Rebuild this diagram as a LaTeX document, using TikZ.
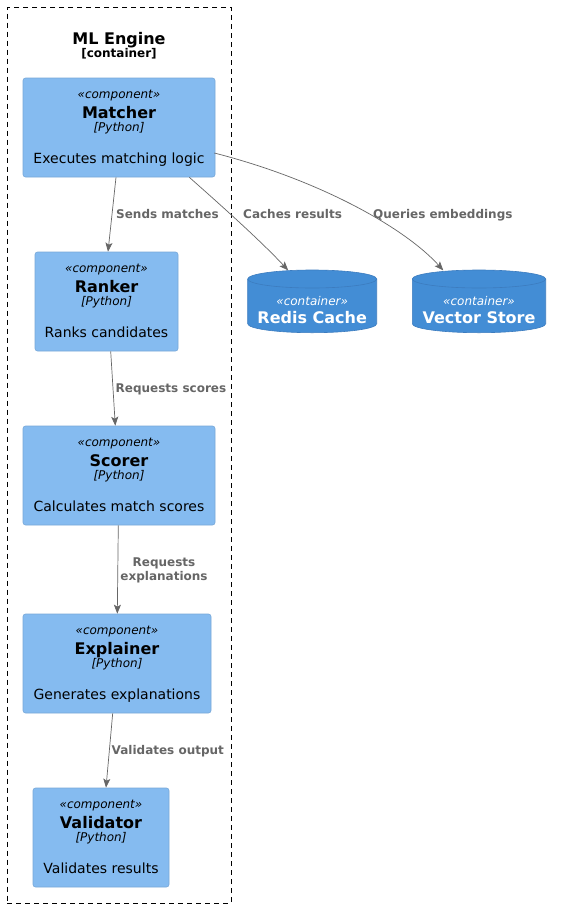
\documentclass[tikz,border=0pt]{standalone}
\usepackage{fontspec}
\setmainfont{DejaVu Sans}
\usetikzlibrary{arrows.meta,calc}
\definecolor{compfill}{HTML}{85BBF0}
\definecolor{compborder}{HTML}{78A8D8}
\definecolor{contfill}{HTML}{438DD5}
\definecolor{contborder}{HTML}{3C7CBF}
\definecolor{edgegray}{HTML}{666666}
\newcommand\mycyl[4]{%
  \pgfmathsetmacro\cxm{(#1+#2)/2}%
  \pgfmathsetmacro\ckx{(#2-#1)/2*0.5523}%
  \pgfmathsetmacro\cyc{#3+9}%
  \pgfmathsetmacro\cyb{#4-9}%
  \path[fill=contfill,draw=contborder,line width=0.6pt]
    (#1,\cyc) .. controls (#1,\cyc-4.97) and (\cxm-\ckx,#3) .. (\cxm,#3)
    .. controls (\cxm+\ckx,#3) and (#2,\cyc-4.97) .. (#2,\cyc)
    -- (#2,\cyb) .. controls (#2,\cyb+4.97) and (\cxm+\ckx,#4) .. (\cxm,#4)
    .. controls (\cxm-\ckx,#4) and (#1,\cyb+4.97) .. (#1,\cyb) -- cycle;
  \draw[contborder,line width=0.6pt]
    (#1,\cyc) .. controls (#1,\cyc+4.97) and (\cxm-\ckx,\cyc+9) .. (\cxm,\cyc+9)
    .. controls (\cxm+\ckx,\cyc+9) and (#2,\cyc+4.97) .. (#2,\cyc);
}
\begin{document}
\begin{tikzpicture}[x=1pt,y=-1pt,
  comp/.style={rectangle,rounded corners=2.5pt,fill=compfill,draw=compborder,line width=0.6pt,inner sep=0pt,minimum height=99pt},
  stereo/.style={anchor=base,inner sep=0pt,font=\fontsize{12}{14}\selectfont\itshape},
  cname/.style={anchor=base,inner sep=0pt,font=\fontsize{16}{19}\selectfont\bfseries},
  tech/.style={anchor=base,inner sep=0pt,font=\fontsize{12}{14}\selectfont\itshape},
  cdesc/.style={anchor=base,inner sep=0pt,font=\fontsize{14}{17}\selectfont},
  wstereo/.style={stereo,text=white},
  wname/.style={cname,text=white},
  rel/.style={draw=edgegray,line width=0.7pt,-{Stealth[length=9pt,width=7pt,inset=2pt]}},
  rlabel/.style={anchor=base,inner sep=0pt,text=edgegray,font=\fontsize{12}{14}\selectfont\bfseries},
]
\useasboundingbox (0,0) rectangle (561,908);
\fill[white] (0,0) rectangle (561,908);

% boundary
\node (boundary) [draw=black,line width=0.8pt,dash pattern=on 5pt off 4pt,minimum width=224pt,minimum height=895.7pt,inner sep=0pt] at (119.3,455.2) {};
\node (btitle) [cname] at (119,44) {ML Engine};
\node (btype) [anchor=base,inner sep=0pt,font=\fontsize{12}{14}\selectfont\bfseries] at (119,57) {[container]};

% components
\node (matcher) [comp,minimum width=192pt] at (119,127.5) {};
\node (matcher-s) [stereo] at (119,98.5) {«component»};
\node (matcher-n) [cname] at (119,118) {Matcher};
\node (matcher-t) [tech] at (119,131.5) {[Python]};
\node (matcher-d) [cdesc] at (119,163) {Executes matching logic};

\node (ranker) [comp,minimum width=143pt] at (106.5,301.5) {};
\node (ranker-s) [stereo] at (106.5,272.5) {«component»};
\node (ranker-n) [cname] at (106.5,292) {Ranker};
\node (ranker-t) [tech] at (106.5,305.5) {[Python]};
\node (ranker-d) [cdesc] at (106.5,337) {Ranks candidates};

\node (scorer) [comp,minimum width=192pt] at (119,475.5) {};
\node (scorer-s) [stereo] at (119,446.5) {«component»};
\node (scorer-n) [cname] at (119,466) {Scorer};
\node (scorer-t) [tech] at (119,479.5) {[Python]};
\node (scorer-d) [cdesc] at (119,511) {Calculates match scores};

\node (explainer) [comp,minimum width=188pt] at (117,663.5) {};
\node (explainer-s) [stereo] at (117,634.5) {«component»};
\node (explainer-n) [cname] at (117,654) {Explainer};
\node (explainer-t) [tech] at (117,667.5) {[Python]};
\node (explainer-d) [cdesc] at (117,699) {Generates explanations};

\node (validator) [comp,minimum width=136pt] at (101,837.5) {};
\node (validator-s) [stereo] at (101,808.5) {«component»};
\node (validator-n) [cname] at (101,828) {Validator};
\node (validator-t) [tech] at (101,841.5) {[Python]};
\node (validator-d) [cdesc] at (101,873) {Validates results};

% containers (cylinders)
\mycyl{247.7}{376.7}{270}{332.7}
\node (redis) [inner sep=0pt,minimum width=129pt,minimum height=62.7pt] at (312.2,301.35) {};
\node (redis-s) [wstereo] at (312.2,305) {«container»};
\node (redis-n) [wname] at (312.2,323) {Redis Cache};

\mycyl{412.3}{545.7}{270}{332.7}
\node (vector) [inner sep=0pt,minimum width=133.4pt,minimum height=62.7pt] at (479,301.35) {};
\node (vector-s) [wstereo] at (479,305) {«container»};
\node (vector-n) [wname] at (479,323) {Vector Store};

% relations
\draw[rel] ([xshift=-3pt]matcher.south) -- ([xshift=1.5pt]ranker.north);
\node (l1) [rlabel,anchor=base west] at (116,218.5) {Sends matches};

\draw[rel] ([xshift=70.3pt]matcher.south) .. controls (215,200) and (260,240) .. ([xshift=-24pt,yshift=-0.6pt]redis.north);
\node (l2) [rlabel,anchor=base west] at (243,218.5) {Caches results};

\draw[rel] ([yshift=-25.5pt,xshift=-1pt]matcher.east) .. controls (320,180) and (405,228) .. ([xshift=-35.7pt,yshift=-0.6pt]vector.north);
\node (l3) [rlabel,anchor=base west] at (373,218.5) {Queries embeddings};

\draw[rel] ([xshift=4.2pt]ranker.south) -- ([xshift=-3.7pt]scorer.north);
\node (l4) [rlabel,anchor=base west] at (115.5,392) {Requests scores};

\draw[rel] ([xshift=-0.7pt]scorer.south) -- ([xshift=0.3pt]explainer.north);
\node (l5a) [rlabel] at (164,566) {Requests};
\node (l5b) [rlabel] at (164,580) {explanations};

\draw[rel] ([xshift=-4.3pt]explainer.south) -- ([xshift=5pt]validator.north);
\node (l6) [rlabel,anchor=base west] at (111.5,754) {Validates output};
\end{tikzpicture}
\end{document}
